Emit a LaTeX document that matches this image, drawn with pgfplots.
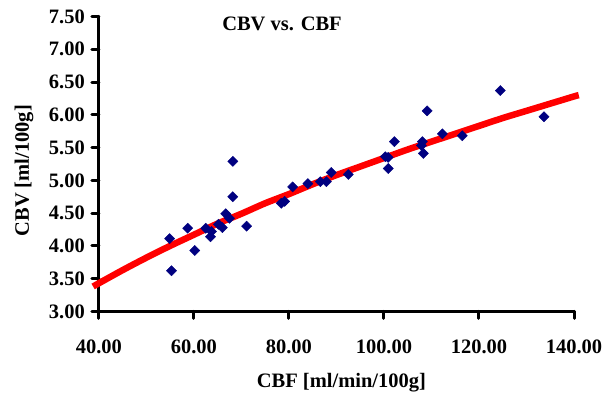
\documentclass[border=0pt]{standalone}
\usepackage{fontspec}
\setmainfont{Liberation Serif}
\usepackage{pgfplots}
\pgfplotsset{compat=1.18}
\definecolor{navy}{HTML}{000080}
\definecolor{fitred}{HTML}{FF0000}
\begin{document}
\fontsize{20.6pt}{24pt}\selectfont
\begin{tikzpicture}
\begin{axis}[
  scale only axis, width=476bp, height=295.5bp,
  xmin=40, xmax=140, ymin=3, ymax=7.5,
  axis lines=left,
  axis line style={-, line width=3bp, line cap=round},
  xtick={40,60,...,140},
  ytick={3,3.5,...,7.5},
  tick align=outside,
  major tick length=7bp,
  tick style={black, line width=3bp, line cap=round},
  /pgf/number format/assume math mode=true,
  /pgf/number format/fixed,
  /pgf/number format/fixed zerofill,
  /pgf/number format/precision=2,
  ticklabel style={font=\fontsize{20.6pt}{24pt}\selectfont\bfseries},
  xticklabel style={yshift=-14bp},
  every axis title shift=0pt,
  title={CBV vs. CBF},
  title style={at={(axis description cs:0.3855,0.975)}, anchor=center, font=\fontsize{20.6pt}{24pt}\selectfont\bfseries},
  xlabel={CBF [ml/min/100g]},
  xlabel style={at={(axis description cs:0.5105,-0.243)}, anchor=center, font=\fontsize{20.6pt}{24pt}\selectfont\bfseries},
  ylabel={CBV [ml/100g]},
  ylabel style={at={(axis description cs:-0.1576,0.477)}, anchor=center, rotate=0, font=\fontsize{20.6pt}{24pt}\selectfont\bfseries},
  clip=false,
]
\path (axis description cs:-0.208,-0.2843) rectangle (axis description cs:1.0714,1.0558);
\addplot[fitred, line width=6.5bp, smooth, no marks] coordinates {
(38.8,3.38) (40,3.43) (45,3.63) (50,3.82) (55,4.00) (60,4.17) (65,4.34)
(70,4.49) (75,4.65) (80,4.79) (85,4.94) (90,5.08) (95,5.21) (100,5.34)
(105,5.47) (110,5.59) (115,5.71) (120,5.83) (125,5.95) (130,6.06)
(135,6.17) (140,6.28) (141,6.30)
};
\addplot[only marks, mark=square*, mark size=3.6bp, mark options={rotate=45, fill=navy, draw=navy}] coordinates {
(54.9,4.11) (55.3,3.62) (58.7,4.27) (60.2,3.93) (62.5,4.27) (63.5,4.14)
(63.7,4.22) (65.2,4.33) (66.0,4.28) (66.7,4.49) (67.5,4.42) (68.2,5.29)
(68.2,4.75) (71.1,4.30) (78.4,4.65) (79.1,4.68) (80.8,4.90) (84.0,4.95)
(86.6,4.98) (87.9,4.98) (88.9,5.12) (92.5,5.09) (100.3,5.36) (100.9,5.35)
(100.9,5.18) (102.2,5.59) (108.1,5.59) (107.9,5.53) (108.3,5.41) (109.1,6.06)
(112.3,5.71) (116.5,5.68) (124.5,6.37) (133.7,5.97)
};
\end{axis}
\end{tikzpicture}
\end{document}
